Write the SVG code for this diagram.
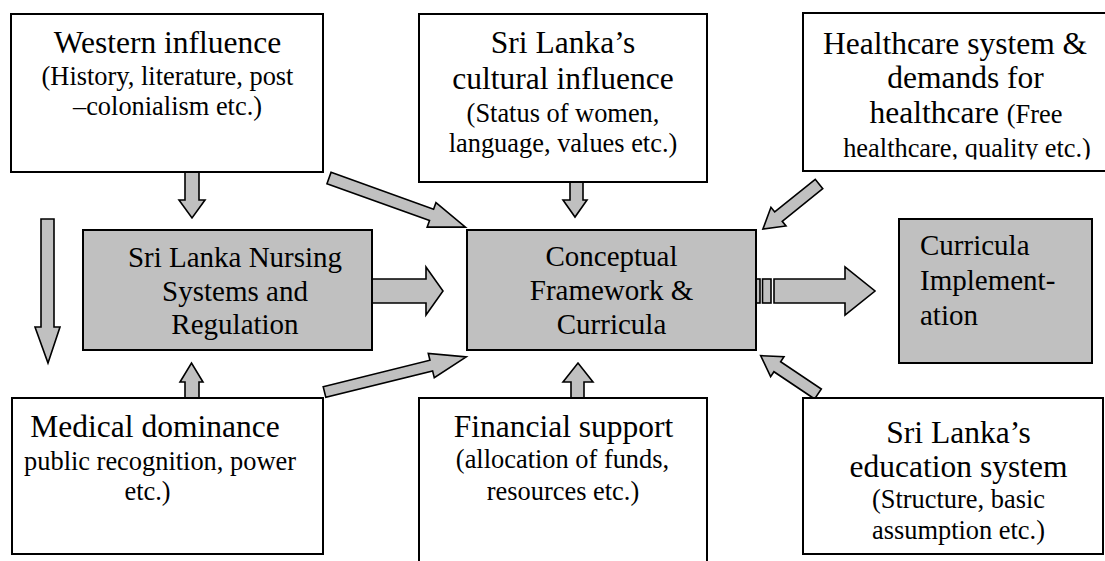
<svg xmlns="http://www.w3.org/2000/svg" width="1105" height="561" viewBox="0 0 1105 561">
<style>
.box{fill:#ffffff;stroke:#000;stroke-width:2}
.gbox{fill:#c0c0c0;stroke:#000;stroke-width:2}
.arr{fill:#c0c0c0;stroke:#000;stroke-width:1.6;stroke-linejoin:miter}
text{font-family:'Liberation Serif','Tinos','DejaVu Serif','Noto Serif',serif;fill:#000}
.t{font-size:31.5px;text-anchor:middle}
.s{font-size:26.4px;text-anchor:middle}
.g{font-size:29px;text-anchor:middle}
.gl{font-size:29px}
</style>
<defs>
<clipPath id="hcclip"><rect x="803" y="13" width="302" height="146.5"/></clipPath>
</defs>
<rect width="1105" height="561" fill="#fff"/>
<g id="connectors">
<polygon class="arr" points="185,172 199,172 199,200 205,200 192,218 179,200 185,200"/>
<polygon class="arr" points="41,219 54,219 54,327 60,327 48,363 35,327 41,327"/>
<polygon class="arr" points="372,279 426,279 426,267 443,291 426,315 426,303 372,303"/>
<polygon class="arr" transform="translate(329,178) rotate(19.8)" points="0,-6 109,-6 109,-13 145,0 109,13 109,6 0,6"/>
<polygon class="arr" transform="translate(324.5,392) rotate(-13.9)" points="0,-5.5 110,-5.5 110,-12.5 146,0 110,12.5 110,5.5 0,5.5"/>
<polygon class="arr" points="185,398 185,382 180,382 191.5,363 203,382 199,382 199,398"/>
<polygon class="arr" points="570,182 583,182 583,200 587,200 575,217 563,200 570,200"/>
<polygon class="arr" points="571,398 571,382 563,382 578,363 593,382 584,382 584,398"/>
<polygon class="arr" transform="translate(819,184) rotate(141.2)" points="0,-6 52,-6 52,-12 72,0 52,12 52,6 0,6"/>
<polygon class="arr" transform="translate(818,394) rotate(-146.2)" points="0,-6 49,-6 49,-12 69,0 49,12 49,6 0,6"/>
<rect class="arr" x="756" y="279" width="4" height="24"/>
<rect class="arr" x="762.5" y="279" width="8.5" height="24"/>
<polygon class="arr" points="774,279 845,279 845,267 875,291 845,315 845,303 774,303"/>
</g>
<g id="western">
<rect class="box" x="11" y="14" width="312" height="158"/>
<text class="t" x="167.5" y="53">Western influence</text>
<text class="s" x="167.5" y="85">(History, literature, post</text>
<text class="s" x="167.5" y="115">–colonialism etc.)</text>
</g>
<g id="cultural">
<rect class="box" x="419" y="14" width="288" height="168"/>
<text class="t" x="563" y="53">Sri Lanka’s</text>
<text class="t" x="563" y="89">cultural influence</text>
<text class="s" x="563" y="122">(Status of women,</text>
<text class="s" x="563" y="152">language, values etc.)</text>
</g>
<g id="healthcare">
<rect class="box" x="803" y="13" width="303" height="158"/>
<text class="t" x="955" y="54">Healthcare system &amp;</text>
<text class="t" x="965.5" y="88">demands for</text>
<text class="t" x="966" y="123">healthcare <tspan style="font-size:26.4px">(Free</tspan></text>
<text class="s" x="967" y="157" clip-path="url(#hcclip)">healthcare, quality etc.)</text>
</g>
<g id="nursing">
<rect class="gbox" x="83" y="230" width="289" height="120"/>
<text class="g" x="235" y="267">Sri Lanka Nursing</text>
<text class="g" x="235" y="301">Systems and</text>
<text class="g" x="235" y="334">Regulation</text>
</g>
<g id="conceptual">
<rect class="gbox" x="467" y="230" width="289" height="120"/>
<text class="g" x="611.5" y="266">Conceptual</text>
<text class="g" x="611.5" y="300">Framework &amp;</text>
<text class="g" x="611.5" y="334">Curricula</text>
</g>
<g id="implementation">
<rect class="gbox" x="899" y="219" width="193" height="144"/>
<text class="gl" x="920" y="255">Curricula</text>
<text class="gl" x="920" y="290">Implement-</text>
<text class="gl" x="920" y="325">ation</text>
</g>
<g id="medical">
<rect class="box" x="12" y="398" width="311" height="156"/>
<text class="t" x="155" y="437">Medical dominance</text>
<text class="s" x="160" y="470">public recognition, power</text>
<text class="s" x="147.5" y="500">etc.)</text>
</g>
<g id="financial">
<rect class="box" x="419" y="398" width="288" height="170"/>
<text class="t" x="563.5" y="437">Financial support</text>
<text class="s" x="562.5" y="468">(allocation of funds,</text>
<text class="s" x="563" y="500">resources etc.)</text>
</g>
<g id="education">
<rect class="box" x="803" y="398" width="300" height="156"/>
<text class="t" x="958.5" y="443">Sri Lanka’s</text>
<text class="t" x="958.5" y="477">education system</text>
<text class="s" x="958.5" y="508">(Structure, basic</text>
<text class="s" x="958.5" y="539">assumption etc.)</text>
</g>
</svg>
